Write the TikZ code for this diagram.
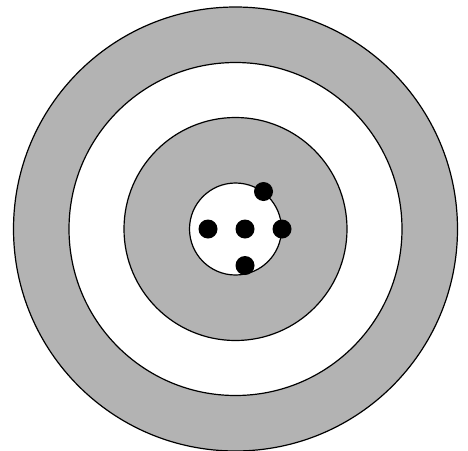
\documentclass[tikz,border=0pt]{standalone}
\definecolor{ringgray}{RGB}{179,179,179}
\tikzset{ring/.style={draw=black,line width=1.2pt},
  dot/.style={circle,fill=black,inner sep=0pt,minimum size=19pt}}
\begin{document}
\begin{tikzpicture}[x=1pt,y=-1pt]
\useasboundingbox (0,0) rectangle (468,450);
\fill[white] (0,0) rectangle (468,450);
\coordinate (c) at (235.5,229);
\draw[ring,fill=ringgray] (c) circle (222);
\draw[ring,fill=white] (c) circle (166.5);
\draw[ring,fill=ringgray] (c) circle (111.5);
\draw[ring,fill=white] (c) circle (46);
\node[dot] (d1) at (208,229) {};
\node[dot] (d2) at (245,229) {};
\node[dot] (d3) at (282,229) {};
\node[dot] (d4) at (263.5,191.5) {};
\node[dot] (d5) at (245,265.5) {};
\end{tikzpicture}
\end{document}
